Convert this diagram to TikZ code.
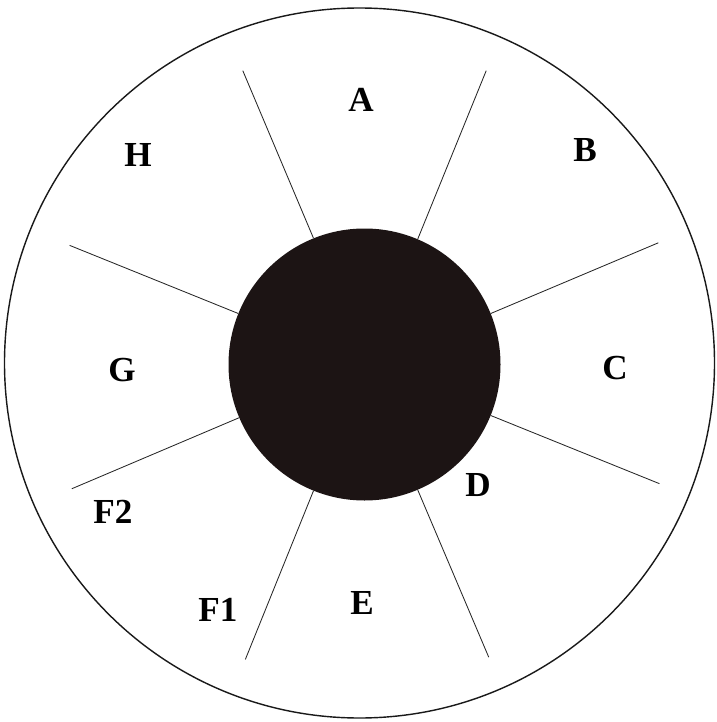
\documentclass[tikz,border=0pt]{standalone}
\usepackage{fontspec}
\setmainfont{Liberation Serif}
\usetikzlibrary{positioning,calc}

\begin{document}
\begin{tikzpicture}[x=0.025cm, y=-0.025cm,
    zone/.style={font=\fontsize{25}{30}\bfseries\selectfont, inner sep=0pt},
    spoke/.style={draw=black!85, line width=0.6pt},
    rim/.style={draw=black!90, line width=1pt}
]
\useasboundingbox (0,0) rectangle (716,722);
\node[rim, circle, minimum size=710*0.025cm, inner sep=0pt] (rim) at (359.5,363) {};
\node[circle, fill={rgb,255:red,28;green,20;blue,20}, minimum size=272*0.025cm, inner sep=0pt] (core) at (364.5,364.5) {};
% spokes
\foreach \i/\a in {1/112.5, 2/67.5, 3/22.5, 4/-22, 5/-67, 6/-112, 7/203, 8/158} {
  \coordinate (s\i) at ($(core.center)+(\a:318*0.025cm)$);
  \draw[spoke] (core.\a) -- (s\i);
}
\node[zone] (A) at (361,100) {A};
\node[zone] (B) at (585,150) {B};
\node[zone] (C) at (615,368) {C};
\node[zone] (D) at (478,485) {D};
\node[zone] (E) at (362,603) {E};
\node[zone] (F1) at (218,610) {F1};
\node[zone] (F2) at (113,512) {F2};
\node[zone] (G) at (122,370) {G};
\node[zone] (H) at (138,155) {H};
\end{tikzpicture}
\end{document}
